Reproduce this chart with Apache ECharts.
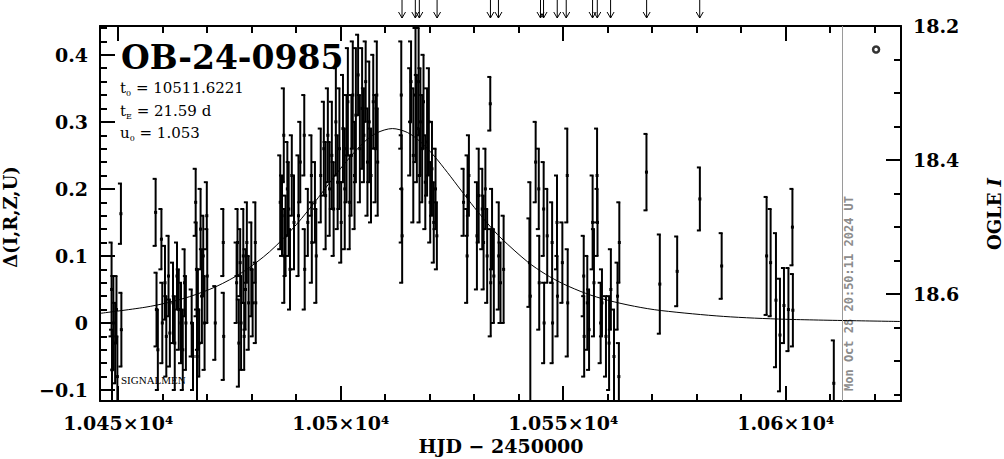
<!DOCTYPE html>
<html><head><meta charset="utf-8">
<script src="https://cdn.jsdelivr.net/npm/echarts@6/dist/echarts.min.js"></script>
<style>html,body{margin:0;padding:0;background:#fff}#c{width:1004px;height:459px}</style>
</head><body><div id="c"></div>
<script>
// ---------- data ----------
const obsHJD = [
 10448.5,10448.6,10448.9,10449.3,10449.6,10449.8,10450.6,10450.7,
 10458.4,10458.6,10458.9,10459.7,10459.9,10460.5,10460.8,10461.3,10461.6,10462.3,10462.7,10463.2,10463.6,10464.1,10464.5,10464.9,10465.2,
 10466.5,10466.8,10467.4,10467.6,10467.7,10467.9,10468.2,10468.5,10468.8,10469.1,10469.4,10469.9,10470.0,10471.8,10473.6,10473.7,
 10476.6,10476.8,10477.1,10477.4,10477.6,10478.1,10478.3,10478.6,10478.9,10479.3,10479.9,10480.2,10480.8,10480.9,
 10486.4,10486.8,10487.2,10487.3,10487.6,10488.0,10488.3,10488.6,10489.0,10489.5,10490.5,10490.9,10491.8,10491.9,10492.6,10493.4,10493.5,10494.2,10494.5,10495.5,10496.2,10496.6,10497.1,10497.5,
 10498.0,10498.4,10498.9,10499.3,10499.7,10500.1,10500.5,10500.9,10501.3,10501.6,10502.0,10502.4,10502.7,10503.1,10503.4,10503.9,10504.3,10504.8,10505.2,10505.6,10506.0,10506.4,10506.8,10507.3,10507.8,10508.1,10508.3,
 10513.6,10513.7,10513.8,
 10515.6,10515.8,10516.3,10516.8,10517.1,10517.5,10517.7,10517.9,10518.3,10518.6,10519.0,10519.4,10519.8,10520.1,10520.5,10520.9,10521.3,10521.6,
 10527.6,10528.4,10528.5,10528.8,10530.6,10531.0,10531.8,10532.1,10532.5,10532.9,10533.6,10533.7,10534.0,10534.4,10535.5,10535.9,10536.6,
 10542.4,10542.6,10543.8,10544.5,10544.6,10545.6,10545.7,10546.4,10547.5,10547.6,10548.6,10548.7,10549.8,10550.9,10551.0,
 10554.6,10554.7,10555.4,10555.8,10556.6,10556.9,10557.6,10557.7,10558.4,10558.7,10559.6,10560.3,10560.7,10561.4,10562.2,10562.5,10562.6,
 10568.7,10571.7,10575.6,10580.7,10585.6,
 10595.7,10596.6,10597.8,10598.7,10599.6,10600.6,10601.5,10601.6,10610.8
];
const obsDelta = [
 0.05,-0.07,0.00,-0.03,0.02,-0.08,0.163,-0.01,
 0.165,0.02,-0.04,0.125,0.00,0.06,-0.02,0.07,-0.015,0.03,-0.03,0.07,0.02,0.00,-0.04,0.06,0.00,
 0.00,-0.05,0.18,0.08,-0.05,0.02,-0.03,0.14,0.04,0.10,0.00,0.16,0.07,0.00,0.12,-0.02,
 0.06,0.12,-0.03,0.09,0.00,0.10,-0.02,0.05,0.12,0.03,0.08,0.03,0.12,0.03,
 0.18,0.16,0.28,0.10,0.13,0.20,0.17,0.08,0.22,0.15,0.16,0.24,0.28,0.08,0.15,0.22,0.12,0.18,0.10,0.22,0.26,0.19,0.28,0.20,
 0.25,0.17,0.30,0.21,0.26,0.15,0.29,0.20,0.26,0.33,0.18,0.25,0.34,0.22,0.31,0.37,0.26,0.32,0.28,0.36,0.24,0.30,0.22,0.33,0.26,0.34,0.24,
 0.34,0.20,0.13,
 0.30,0.36,0.25,0.34,0.29,0.36,0.22,0.30,0.26,0.33,0.21,0.27,0.30,0.18,0.23,0.15,0.20,0.13,
 0.18,0.10,0.19,0.22,0.13,0.19,0.17,0.12,0.20,0.10,0.327,0.06,0.14,0.07,0.10,0.06,0.08,
 0.09,0.04,0.24,0.20,0.06,0.17,0.00,0.13,0.12,0.00,0.15,0.04,0.09,0.22,0.03,
 0.07,-0.02,0.03,-0.01,0.15,0.06,0.22,0.15,0.00,0.03,-0.02,-0.03,0.05,-0.05,0.04,-0.08,0.12,
 0.225,0.058,0.077,0.185,0.085,
 0.10,0.09,0.034,-0.018,0.026,0.02,0.143,0.019,-0.09
];
const obsErr = [
 0.07,0.06,0.07,0.06,0.05,0.06,0.045,0.055,
 0.05,0.055,0.06,0.045,0.06,0.055,0.06,0.06,0.05,0.06,0.07,0.05,0.06,0.06,0.06,0.05,0.07,
 0.05,0.05,0.05,0.07,0.07,0.06,0.05,0.06,0.07,0.06,0.07,0.05,0.07,0.055,0.05,0.065,
 0.06,0.05,0.065,0.05,0.07,0.07,0.05,0.06,0.06,0.07,0.07,0.05,0.06,0.06,
 0.07,0.06,0.07,0.07,0.06,0.07,0.07,0.06,0.06,0.07,0.09,0.06,0.06,0.06,0.05,0.06,0.06,0.06,0.07,0.07,0.07,0.08,0.07,0.07,
 0.08,0.07,0.08,0.07,0.09,0.06,0.08,0.09,0.08,0.08,0.07,0.09,0.08,0.08,0.10,0.06,0.08,0.09,0.07,0.06,0.08,0.09,0.07,0.07,0.08,0.08,0.08,
 0.08,0.08,0.07,
 0.08,0.06,0.10,0.10,0.08,0.08,0.07,0.08,0.08,0.07,0.07,0.08,0.08,0.06,0.07,0.06,0.06,0.05,
 0.05,0.07,0.06,0.06,0.08,0.07,0.06,0.07,0.06,0.07,0.04,0.08,0.06,0.07,0.08,0.06,0.08,
 0.066,0.17,0.06,0.06,0.07,0.07,0.06,0.07,0.06,0.06,0.07,0.06,0.06,0.07,0.08,
 0.06,0.06,0.07,0.06,0.07,0.08,0.07,0.05,0.06,0.05,0.06,0.07,0.06,0.07,0.05,0.05,0.06,
 0.057,0.074,0.052,0.047,0.049,
 0.088,0.08,0.10,0.084,0.056,0.062,0.057,0.054,0.064
];
// model light curve
const modelHJD = [10446,10456,10461,10466,10472,10478,10484,10490,10495,10500,10505,10508,10511.6,10515,10518,10521,10524,10527,10530,10533,10536,10542,10546,10550,10555,10560,10566,10572,10586,10600,10626];
const modelDelta = [0.0144,0.0234,0.0301,0.0392,0.0543,0.0760,0.1062,0.1466,0.1874,0.2308,0.2683,0.2832,0.2900,0.2841,0.2697,0.2490,0.2243,0.1982,0.1725,0.1484,0.1267,0.0911,0.0728,0.0583,0.0443,0.0339,0.0249,0.0185,0.0098,0.0055,0.0022];
// arrows above the frame (epochs)
const arrowHJD = [10513.77,10516.76,10517.66,10521.65,10533.64,10535.44,10544.89,10545.57,10548.65,10550.67,10556.59,10557.65,10560.64,10568.74,10580.67];
const nowHJD = 10612.8;
const legendMark = [[10620.3, 0.408]];
// axes
const xMajorTicks = [10450,10500,10550,10600];
const xMajorLabels = ['1.045×10⁴','1.05×10⁴','1.055×10⁴','1.06×10⁴'];
const xMinorTicks = [10450,10460,10470,10480,10490,10500,10510,10520,10530,10540,10550,10560,10570,10580,10590,10600,10610,10620];
const yMajorTicks = [-0.1,0,0.1,0.2,0.3,0.4];
const yMajorLabels = ['−0.1','0','0.1','0.2','0.3','0.4'];
const yMinorTicks = [-0.1,-0.08,-0.06,-0.04,-0.02,0,0.02,0.04,0.06,0.08,0.1,0.12,0.14,0.16,0.18,0.2,0.22,0.24,0.26,0.28,0.3,0.32,0.34,0.36,0.38,0.4,0.42,0.44];
const iMajorTicks = [18.2,18.4,18.6];
const iMajorLabels = ['18.2','18.4','18.6'];
const iMinorTicks = [18.25,18.3,18.35,18.45,18.5,18.55,18.65,18.7,18.75];
const X_MIN = 10445.9, X_MAX = 10625.9, Y_MIN = -0.1164, Y_MAX = 0.443;
const I_MIN = 18.2, I_MAX = 18.7594;

const errData = obsHJD.map((t,i)=>[t, obsDelta[i], obsErr[i]]);
const modelData = modelHJD.map((t,i)=>[t, modelDelta[i]]);
const arrowData = arrowHJD.map(t=>[t, Y_MAX]);

const LBL = {fontFamily:'DejaVu Serif', fontWeight:'bold', fontSize:19, color:'#000'};
const lineBlk = {color:'#000', width:2};
function lookup(ticks, labels){ return v => { for (let i=0;i<ticks.length;i++) if (Math.abs(v-ticks[i])<1e-6) return labels[i]; return ''; }; }

function xAxisDef(pos, major){
  return {type:'value', min:X_MIN, max:X_MAX, position:pos, gridIndex:0,
    axisLine:{show:major, onZero:false, lineStyle:lineBlk},
    axisTick:{show:true, inside:true, length: major?15:7, lineStyle:lineBlk, customValues: major?xMajorTicks:xMinorTicks},
    axisLabel:(major && pos==='bottom') ? Object.assign({show:true, margin:12, customValues:xMajorTicks, formatter:lookup(xMajorTicks,xMajorLabels)}, LBL) : {show:false},
    splitLine:{show:false}};
}
function yAxisDef(pos, major){
  const isI = pos==='right';
  return {type:'value', min:isI?I_MIN:Y_MIN, max:isI?I_MAX:Y_MAX, inverse:isI, position:pos, gridIndex:0,
    axisLine:{show:major, onZero:false, lineStyle:lineBlk},
    axisTick:{show:true, inside:true, length: major?15:7, lineStyle:lineBlk,
      customValues: isI ? (major?iMajorTicks:iMinorTicks) : (major?yMajorTicks:yMinorTicks)},
    axisLabel: major ? Object.assign({show:true, margin:12,
      customValues: isI?iMajorTicks:yMajorTicks,
      formatter: isI?lookup(iMajorTicks,iMajorLabels):lookup(yMajorTicks,yMajorLabels)}, LBL) : {show:false},
    splitLine:{show:false}};
}

const chart = echarts.init(document.getElementById('c'), null, {renderer:'svg', width:1004, height:459});
const sub = {fontFamily:'DejaVu Serif', fontSize:8, color:'#000', verticalAlign:'bottom', lineHeight:10};
const par = {fontFamily:'DejaVu Serif', fontSize:15, color:'#000', lineHeight:18};
chart.setOption({
  animation:false,
  backgroundColor:'#fff',
  grid:{left:100, right:103, top:26, bottom:58, containLabel:false, outerBoundsMode:'none'},
  xAxis:[xAxisDef('bottom',true), xAxisDef('bottom',false), xAxisDef('top',true), xAxisDef('top',false)],
  yAxis:[yAxisDef('left',true), yAxisDef('left',false), yAxisDef('right',true), yAxisDef('right',false)],
  series:[
    {type:'line', xAxisIndex:0, yAxisIndex:0, data:modelData, smooth:0.3, showSymbol:false, symbol:'none',
     lineStyle:{color:'#000', width:1}, z:3, silent:true,
     markLine:{silent:true, symbol:['none','none'], data:[{xAxis:nowHJD}], label:{show:false},
       lineStyle:{color:'#9a9a9a', width:1, type:'solid'}}},
    {type:'custom', xAxisIndex:0, yAxisIndex:0, data:errData, clip:true, z:4, silent:true,
     renderItem:function(params, api){
       const t=api.value(0), d=api.value(1), e=api.value(2);
       const hi=api.coord([t,d+e]), lo=api.coord([t,d-e]), c=api.coord([t,d]);
       const x=c[0];
       const st={stroke:'#000', lineWidth:2};
       return {type:'group', children:[
         {type:'line', shape:{x1:x,y1:hi[1],x2:x,y2:lo[1]}, style:st},
         {type:'line', shape:{x1:x-3,y1:hi[1],x2:x+1,y2:hi[1]}, style:st},
         {type:'line', shape:{x1:x-3,y1:lo[1],x2:x+1,y2:lo[1]}, style:st},
         {type:'rect', shape:{x:x-1.5,y:c[1]-1.5,width:3,height:3}, style:{fill:'#000'}}
       ]};
     }},
    {type:'custom', xAxisIndex:0, yAxisIndex:0, data:arrowData, clip:false, z:4, silent:true,
     renderItem:function(params, api){
       const x=api.coord([api.value(0), api.value(1)])[0];
       const top=params.coordSys.y;
       const st={stroke:'#000', lineWidth:1, fill:'none'};
       return {type:'group', children:[
         {type:'line', shape:{x1:x,y1:top-26,x2:x,y2:top-8}, style:st},
         {type:'polyline', shape:{points:[[x-3.5,top-14],[x,top-8],[x+3.5,top-14]]}, style:st}
       ]};
     }},
    {type:'scatter', xAxisIndex:0, yAxisIndex:0, data:legendMark, symbol:'circle', symbolSize:6,
     itemStyle:{color:'#fff', borderColor:'#000', borderWidth:2.5}, z:5, silent:true}
  ],
  graphic:[
    {type:'text', x:121, y:57, z:1, style:{text:'OB-24-0985', fontFamily:'DejaVu Serif', fontWeight:'bold', fontSize:33, fill:'#000', textVerticalAlign:'middle', textAlign:'left'}},
    {type:'text', x:120, y:88, style:{text:'{v|t}{s|0}{v| = 10511.6221}', rich:{v:par, s:sub}, textVerticalAlign:'middle'}},
    {type:'text', x:120, y:111, style:{text:'{v|t}{s|E}{v| = 21.59 d}', rich:{v:par, s:sub}, textVerticalAlign:'middle'}},
    {type:'text', x:120, y:133, style:{text:'{v|u}{s|0}{v| = 1.053}', rich:{v:par, s:sub}, textVerticalAlign:'middle'}},
    {type:'text', x:121, y:380, style:{text:'SIGNALMEN', fontFamily:'Liberation Serif', fontSize:11, fill:'#000', textVerticalAlign:'middle'}},
    {type:'text', x:849, y:391, rotation:Math.PI/2, style:{text:'Mon Oct 28 20:50:11 2024 UT', fontFamily:'DejaVu Sans Mono', fontWeight:'bold', fontSize:12, fill:'#8c8c8c', textAlign:'left', textVerticalAlign:'middle'}},
    {type:'text', x:10, y:217, rotation:Math.PI/2, style:{text:'Δ(I,R,Z,U)', fontFamily:'DejaVu Serif', fontWeight:'bold', fontSize:18, fill:'#000', textAlign:'center', textVerticalAlign:'middle'}},
    {type:'text', x:994, y:214, rotation:Math.PI/2, style:{text:'{a|OGLE }{b|I}', rich:{a:{fontFamily:'DejaVu Serif', fontWeight:'bold', fontSize:18, color:'#000'}, b:{fontFamily:'DejaVu Serif', fontWeight:'bold', fontStyle:'italic', fontSize:18, color:'#000'}}, textAlign:'center', textVerticalAlign:'middle'}},
    {type:'text', x:501, y:446, style:{text:'HJD − 2450000', fontFamily:'DejaVu Serif', fontWeight:'bold', fontSize:19, fill:'#000', textAlign:'center', textVerticalAlign:'middle'}}
  ]
});
</script></body></html>
